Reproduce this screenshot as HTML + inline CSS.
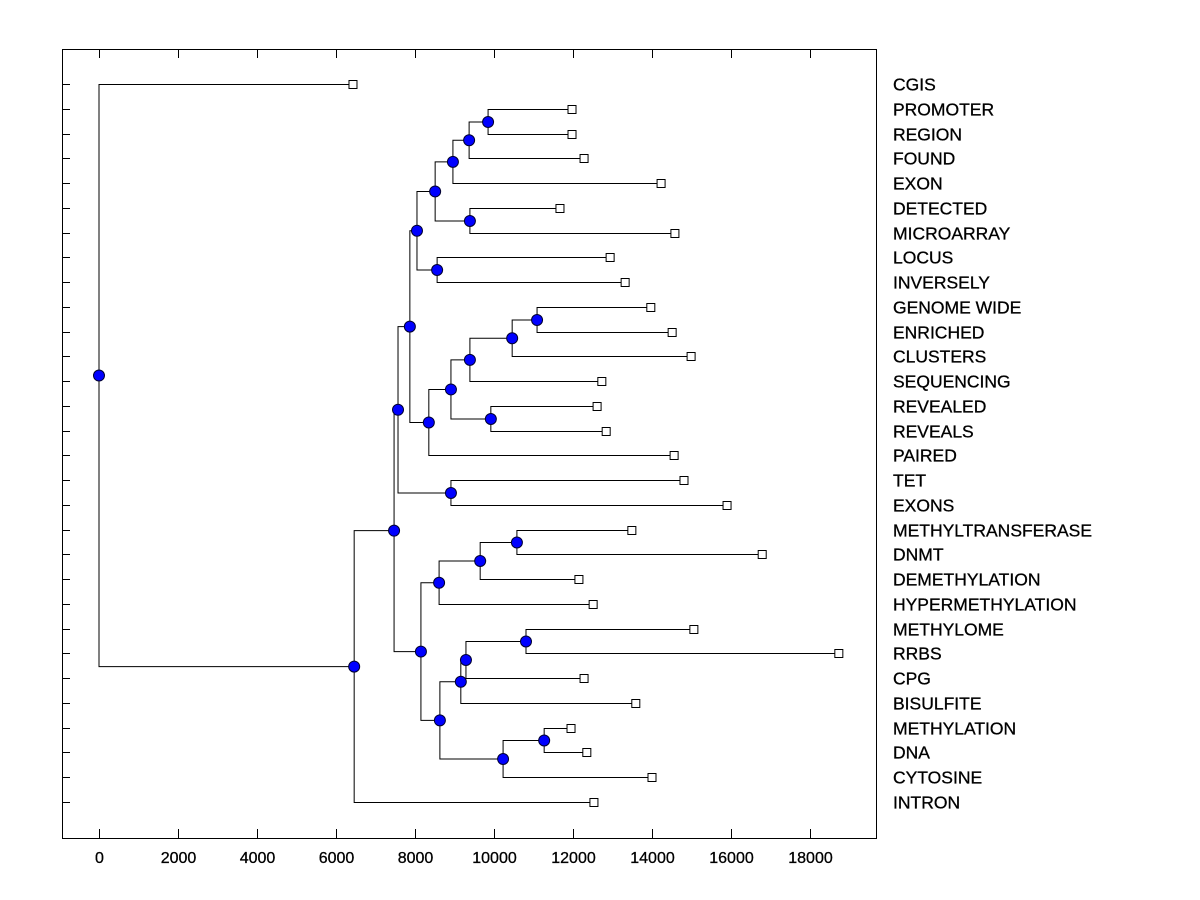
<!DOCTYPE html>
<html><head><meta charset="utf-8"><style>
body{margin:0;background:#fff;}
svg{display:block;font-family:"Liberation Sans",Arial,sans-serif;}
</style></head><body>
<svg id="chart" width="1200" height="900"></svg>
<script>
const leafLabels=["CGIS","PROMOTER","REGION","FOUND","EXON","DETECTED","MICROARRAY","LOCUS","INVERSELY","GENOME WIDE","ENRICHED","CLUSTERS","SEQUENCING","REVEALED","REVEALS","PAIRED","TET","EXONS","METHYLTRANSFERASE","DNMT","DEMETHYLATION","HYPERMETHYLATION","METHYLOME","RRBS","CPG","BISULFITE","METHYLATION","DNA","CYTOSINE","INTRON"];
const leafValues=[6430,11975,11975,12280,14230,11670,14580,12940,13320,13970,14510,14990,12730,12610,12840,14560,14810,15900,13490,16790,12150,12510,15060,18730,12280,13590,11950,12350,14000,12530];
const mergeLeft=["L1","N0","N1","L5","N2","L7","N4","L9","N7","N8","L13","N9","N11","N6","L16","N13","L18","N16","N17","L22","N19","N20","L26","N22","N21","N18","N15","N26","L0"];
const mergeRight=["L2","L3","L4","L6","N3","L8","N5","L10","L11","L12","L14","N10","L15","N12","L17","N14","L19","L20","L21","L23","L24","L25","L27","L28","N23","N24","N25","L29","N27"];
const mergeHeights=[9850,9370,8960,9390,8510,8560,8050,11090,10460,9390,9920,8910,8350,7870,8910,7570,10580,9650,8610,10810,9290,9160,11270,10230,8630,8150,7470,6460,0];
const xTicks=[0,2000,4000,6000,8000,10000,12000,14000,16000,18000];

const NS="http://www.w3.org/2000/svg";
const svg=document.getElementById('chart');
const L=62,R=876,T=49,B=838;
const xs=v=>99+v*0.0395;
const ys=i=>84+i*(802-84)/29;
function el(tag,attrs,parent){const e=document.createElementNS(NS,tag);for(const k in attrs)e.setAttribute(k,attrs[k]);(parent||svg).appendChild(e);return e;}

const frame=el('rect',{x:L+0.5,y:T+0.5,width:R-L,height:B-T,fill:'none',stroke:'#000','stroke-width':1});



xTicks.forEach(t=>{
  const x=Math.round(xs(t))+0.5;
  const a=el('line',{x1:x,x2:x,y1:B,y2:B-9,stroke:'#000'});
  
  
  const b=el('line',{x1:x,x2:x,y1:T,y2:T+9,stroke:'#000'});
  
  
  const tx=el('text',{x:x,y:863,'text-anchor':'middle','font-size':16,stroke:'#000','stroke-width':0.3});
  tx.textContent=t;
  
  
});

const pos={};
leafLabels.forEach((lab,i)=>{
  const y=Math.round(ys(i))+0.5;
  pos['L'+i]={x:xs(leafValues[i]),y:y};
  const tk=el('line',{x1:L,x2:L+8,y1:y,y2:y,stroke:'#000'});
  
  
  const t=el('text',{x:893,y:y+6,'font-size':17.5,stroke:'#000','stroke-width':0.3});
  t.textContent=lab;
  
  
});

const nodes=[];
mergeHeights.forEach((h,i)=>{
  const a=pos[mergeLeft[i]],b=pos[mergeRight[i]];
  const x=xs(h),y=(a.y+b.y)/2;
  pos['N'+i]={x:x,y:y};
  const p=el('path',{d:`M${a.x},${a.y}H${x}V${b.y}H${b.x}`,fill:'none',stroke:'#000','stroke-width':1});
  
  
  nodes.push([x,y]);
});
leafLabels.forEach((lab,i)=>{
  const p=pos['L'+i];
  const s=el('rect',{x:p.x-4,y:p.y-4,width:8,height:8,fill:'#fff',stroke:'#000'});
  
  
});
nodes.forEach(([x,y])=>{
  const c=el('circle',{cx:x,cy:y,r:5.5,fill:'#0000ff',stroke:'#000030','stroke-width':1});
  
  
});
</script>
</body></html>
